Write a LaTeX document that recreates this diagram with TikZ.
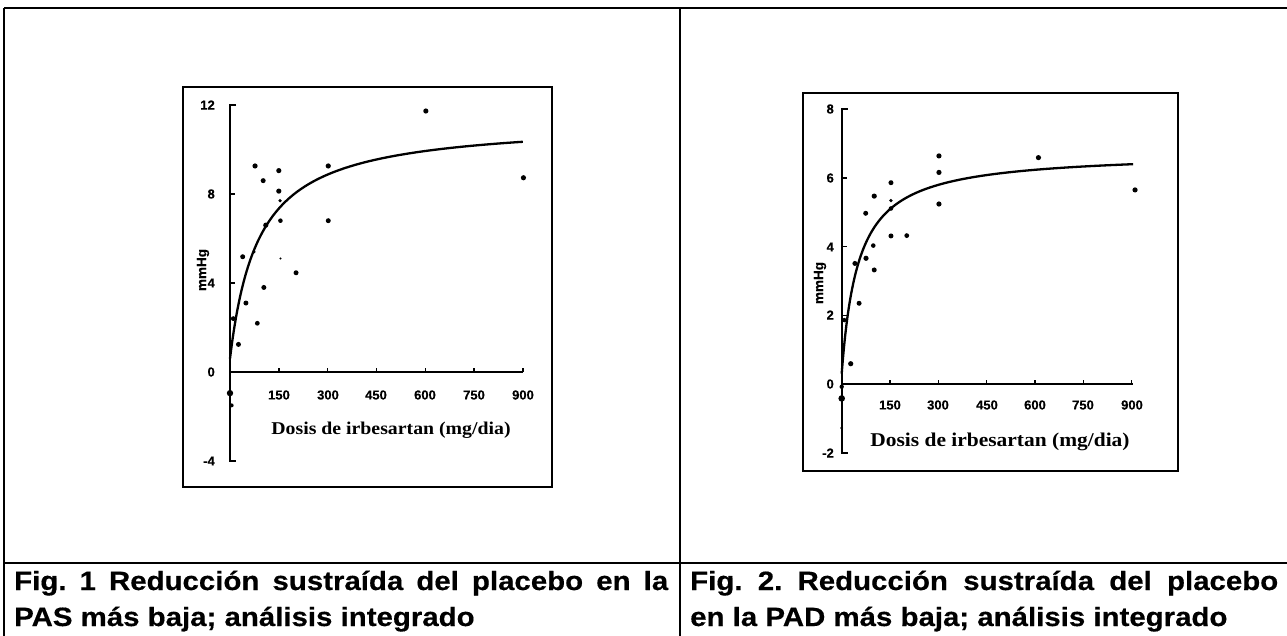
\documentclass[tikz,border=0pt]{standalone}
\usepackage{fontspec}
\setmainfont{Liberation Serif}
\newfontfamily\capfont[FakeStretch=1.11, BoldFeatures={FakeBold=0.4}]{Liberation Sans}
\newfontfamily\tickfont[BoldFeatures={FakeBold=0.3}]{Liberation Sans}
\newfontfamily\labfont[FakeStretch=1.1]{Liberation Serif}
\tikzset{
  tbl/.style={line width=1.3pt},
  pframe/.style={line width=2.2pt},
  yax/.style={line width=2.4pt},
  xax/.style={line width=1.8pt},
  tck/.style={line width=1.4pt},
  fitcurve/.style={line width=2.3pt, line join=round},
  caption/.style={inner sep=0pt, anchor=base west, font=\capfont\bfseries\fontsize{26.5}{30}\selectfont},
  ticklab/.style={inner sep=0pt, font=\tickfont\bfseries\fontsize{13}{14}\selectfont},
  ylab/.style={inner sep=0pt, rotate=90, font=\tickfont\bfseries\fontsize{13.5}{14}\selectfont},
  xlab/.style={inner sep=0pt, font=\labfont\bfseries\fontsize{18}{19}\selectfont},
}
\frenchspacing
\begin{document}
\frenchspacing
\begin{tikzpicture}[x=1pt,y=-1pt]
\useasboundingbox (0,0) rectangle (1287,636);
\fill[white] (0,0) rectangle (1287,636);
% table
\draw[tbl] (4,8) -- (1287,8);
\draw[tbl] (4,8) -- (4,636);
\draw[tbl] (680,8) -- (680,636);
\draw[tbl] (4,563) -- (1287,563);
% captions
\node[caption] (c1a) at (14,590) {\makebox[654pt][s]{Fig. 1 Reducción sustraída del placebo en la}};
\node[caption] (c1b) at (14,626) {PAS más baja; análisis integrado};
\node[caption] (c2a) at (690,590) {\makebox[588pt][s]{Fig. 2. Reducción sustraída del placebo}};
\node[caption] (c2b) at (690,626) {en la PAD más baja; análisis integrado};

% ---------------- plot 1 ----------------
\draw[pframe] (183,87) rectangle (552,487);
\begin{scope}[shift={(230,372)}, x=0.32533pt, y=22.25pt]
  \draw[yax] ([xshift=6pt]0,12) -- (0,12) -- (0,-4) -- ++(6pt,0);
  \foreach \v in {8,4,0} \draw[tck] (0,\v) -- ++(5pt,0);
  \draw[xax] (0,0) -- (900,0);
  \foreach \v in {150,300,...,900} \draw[tck] (\v,0) -- ++(0,4pt);
  \draw[fitcurve] plot[domain=0:30, samples=160, variable=\t] ({\t*\t}, {0.6+10.7*\t*\t/(88+\t*\t)});
  \foreach \a/\b/\r in {77/9.26/2.6, 102/8.6/2.5, 150/9.05/2.6, 150/8.13/2.6, 154/7.7/1.8, 155/6.8/2.3,
     110/6.6/2.6, 302/9.26/2.6, 302/6.8/2.5, 602/11.73/2.6, 902/8.73/2.6, 39/5.18/2.5, 74/5.4/1.6,
     155/5.1/1.1, 203/4.46/2.5, 104/3.8/2.5, 49/3.1/2.5, 84/2.19/2.4, 10/2.4/2.4, 26/1.24/2.5,
     0/-0.95/3.2, 5/-1.5/2.0}
    \fill (\a,\b) circle[radius=\r pt];
\end{scope}
\node[ticklab, anchor=east] (a12) at (215,105) {12};
\node[ticklab, anchor=east] (a8) at (215,194) {8};
\node[ticklab, anchor=east] (a4) at (215,283) {4};
\node[ticklab, anchor=east] (a0) at (215,372) {0};
\node[ticklab, anchor=east] (am4) at (215,461) {-4};
\node[ticklab] (b150) at (279,395) {150};
\node[ticklab] (b300) at (328,395) {300};
\node[ticklab] (b450) at (376,395) {450};
\node[ticklab] (b600) at (425,395) {600};
\node[ticklab] (b750) at (474,395) {750};
\node[ticklab] (b900) at (523,395) {900};
\node[ylab] (ay) at (203,270) {mmHg};
\node[xlab] (ax) at (391,430) {Dosis de irbesartan (mg/dia)};

% ---------------- plot 2 ----------------
\draw[pframe] (803,93) rectangle (1178,471);
\begin{scope}[shift={(841.7,384)}, x=0.322pt, y=34.35pt]
  \draw[yax] ([xshift=6pt]0,8) -- (0,8) -- (0,-2) -- ++(6pt,0);
  \foreach \v in {6,4,2,0} \draw[tck] (0,\v) -- ++(5pt,0);
  \draw[xax] (0,0) -- (905,0);
  \foreach \v in {150,300,...,900} \draw[tck] (\v,0) -- ++(0,4pt);
  \draw[fitcurve] plot[domain=0:30.08, samples=160, variable=\t] ({\t*\t}, {0.3+6.45*\t*\t/(52+\t*\t)});
  \foreach \a/\b/\r in {302/6.64/2.6, 302/6.16/2.6, 302/5.24/2.6, 611/6.59/2.6, 911/5.65/2.6,
     153/5.86/2.5, 153/5.34/1.8, 153/5.11/2.3, 153/4.31/2.5, 202/4.32/2.4, 101/5.47/2.6,
     74.5/4.97/2.5, 98/4.03/2.3, 75.5/3.66/2.6, 101/3.32/2.5, 41/3.51/2.5, 54/2.35/2.5,
     28/0.59/2.6, 8/1.86/2.2, 0/-0.42/3.3, 0/-0.08/2.2, 0/-1.28/1.5}
    \fill (\a,\b) circle[radius=\r pt];
\end{scope}
\node[ticklab, anchor=east] (d8) at (834,109) {8};
\node[ticklab, anchor=east] (d6) at (834,178) {6};
\node[ticklab, anchor=east] (d4) at (834,247) {4};
\node[ticklab, anchor=east] (d2) at (834,315) {2};
\node[ticklab, anchor=east] (d0) at (834,384) {0};
\node[ticklab, anchor=east] (dm2) at (834,453) {-2};
\node[ticklab] (e150) at (890,405) {150};
\node[ticklab] (e300) at (938,405) {300};
\node[ticklab] (e450) at (987,405) {450};
\node[ticklab] (e600) at (1035,405) {600};
\node[ticklab] (e750) at (1083,405) {750};
\node[ticklab] (e900) at (1132,405) {900};
\node[ylab] (dy) at (820,283) {mmHg};
\node[xlab, font=\labfont\bfseries\fontsize{19.5}{20}\selectfont] (dx) at (1000,442) {Dosis de irbesartan (mg/dia)};
\end{tikzpicture}
\end{document}
